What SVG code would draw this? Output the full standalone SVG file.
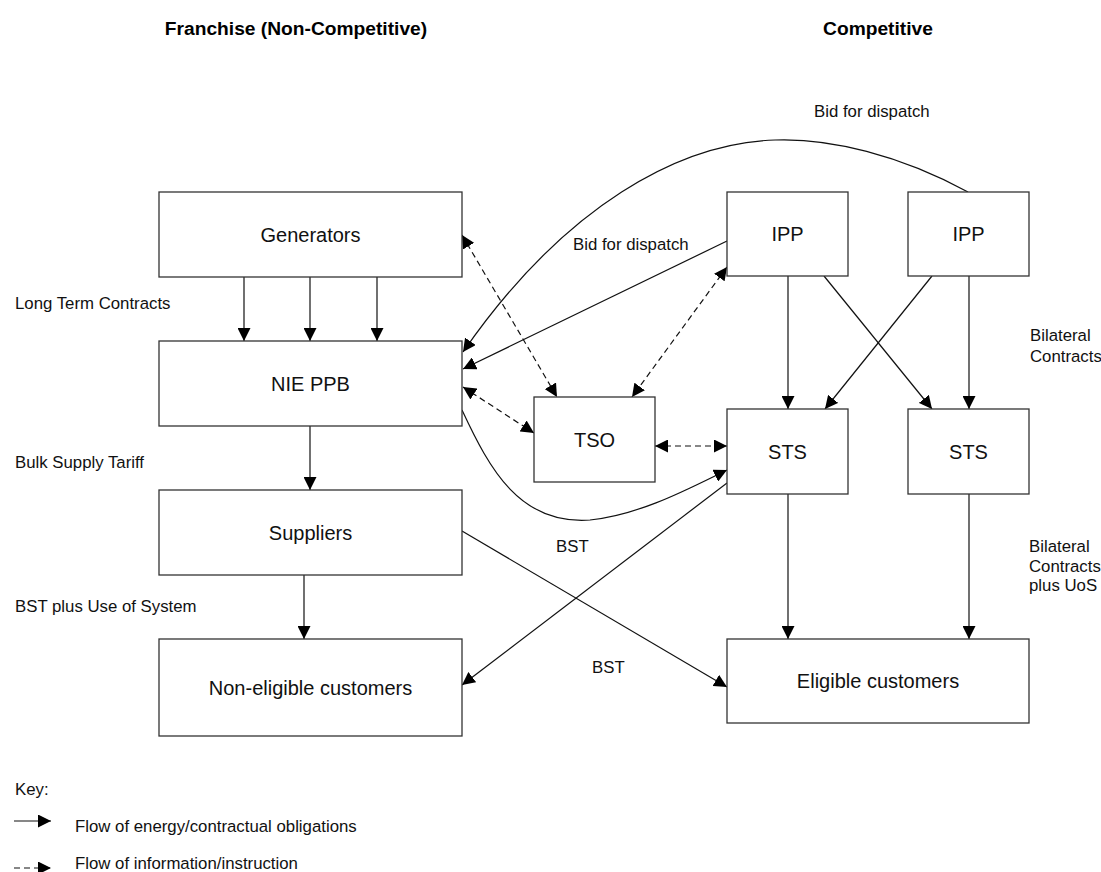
<svg xmlns="http://www.w3.org/2000/svg" width="1101" height="872" viewBox="0 0 1101 872">
<defs>
<marker id="ah" markerUnits="userSpaceOnUse" markerWidth="13" markerHeight="13" refX="13" refY="6.5" orient="auto-start-reverse" viewBox="0 0 13 13">
<path d="M0,0 L13,6.5 L0,13 z" fill="#000"/>
</marker>
</defs>
<style>
.box{fill:#fff;stroke:#333;stroke-width:1.3}
.lbl{font-family:"Liberation Sans",Arial,sans-serif;font-size:20px;fill:#111;text-anchor:middle}
.sm{font-family:"Liberation Sans",Arial,sans-serif;font-size:16.8px;fill:#111}
.hd{font-family:"Liberation Sans",Arial,sans-serif;font-size:19.2px;font-weight:bold;fill:#000;text-anchor:middle}
.s{fill:none;stroke:#111;stroke-width:1.2}
.d{fill:none;stroke:#111;stroke-width:1.2;stroke-dasharray:6,4}
</style>
<rect width="1101" height="872" fill="#fff"/>
<text class="hd" x="296" y="35">Franchise (Non-Competitive)</text>
<text class="hd" x="878" y="35">Competitive</text>

<g id="connectors">
<line class="s" x1="244" y1="277" x2="244" y2="341" marker-end="url(#ah)"/>
<line class="s" x1="310" y1="277" x2="310" y2="341" marker-end="url(#ah)"/>
<line class="s" x1="377" y1="277" x2="377" y2="341" marker-end="url(#ah)"/>
<line class="s" x1="310" y1="426" x2="310" y2="490" marker-end="url(#ah)"/>
<line class="s" x1="304" y1="575" x2="304" y2="639" marker-end="url(#ah)"/>
<line class="s" x1="788" y1="276" x2="788" y2="409" marker-end="url(#ah)"/>
<line class="s" x1="969" y1="276" x2="969" y2="409" marker-end="url(#ah)"/>
<line class="s" x1="824" y1="276" x2="932" y2="409" marker-end="url(#ah)"/>
<line class="s" x1="932" y1="276" x2="825" y2="409" marker-end="url(#ah)"/>
<line class="s" x1="788" y1="494" x2="788" y2="639" marker-end="url(#ah)"/>
<line class="s" x1="969" y1="494" x2="969" y2="639" marker-end="url(#ah)"/>
<line class="s" x1="727" y1="241" x2="463" y2="369" marker-end="url(#ah)"/>
<path class="s" d="M968,192 C900,155 830,138 775,140 C680,143 565,205 463,352" marker-end="url(#ah)"/>
<path class="s" d="M462,410 C490,470 520,525 590,520 C640,515 690,488 727,470" marker-end="url(#ah)"/>
<line class="s" x1="462" y1="531" x2="727" y2="687" marker-end="url(#ah)"/>
<line class="s" x1="727" y1="483" x2="462" y2="685" marker-end="url(#ah)"/>
<line class="d" x1="462" y1="235" x2="557" y2="397" marker-start="url(#ah)" marker-end="url(#ah)"/>
<line class="d" x1="727" y1="267" x2="632" y2="397" marker-start="url(#ah)" marker-end="url(#ah)"/>
<line class="d" x1="463" y1="387" x2="534" y2="433" marker-start="url(#ah)" marker-end="url(#ah)"/>
<line class="d" x1="655" y1="446" x2="727" y2="446" marker-start="url(#ah)" marker-end="url(#ah)"/>
</g>

<g id="generators"><rect class="box" x="159" y="192" width="303" height="85"/><text class="lbl" x="310.5" y="241.5">Generators</text></g>
<g id="nie-ppb"><rect class="box" x="159" y="341" width="303" height="85"/><text class="lbl" x="310.5" y="390.5">NIE PPB</text></g>
<g id="suppliers"><rect class="box" x="159" y="490" width="303" height="85"/><text class="lbl" x="310.5" y="539.5">Suppliers</text></g>
<g id="non-eligible"><rect class="box" x="159" y="639" width="303" height="97"/><text class="lbl" x="310.5" y="694.5">Non-eligible customers</text></g>
<g id="tso"><rect class="box" x="534" y="397" width="121" height="85"/><text class="lbl" x="594.5" y="446.5">TSO</text></g>
<g id="ipp1"><rect class="box" x="727" y="192" width="121" height="84"/><text class="lbl" x="787.5" y="241">IPP</text></g>
<g id="ipp2"><rect class="box" x="908" y="192" width="121" height="84"/><text class="lbl" x="968.5" y="241">IPP</text></g>
<g id="sts1"><rect class="box" x="727" y="409" width="121" height="85"/><text class="lbl" x="787.5" y="458.5">STS</text></g>
<g id="sts2"><rect class="box" x="908" y="409" width="121" height="85"/><text class="lbl" x="968.5" y="458.5">STS</text></g>
<g id="eligible"><rect class="box" x="727" y="639" width="302" height="84"/><text class="lbl" x="878" y="688">Eligible customers</text></g>

<g id="labels">
<text class="sm" x="814" y="117">Bid for dispatch</text>
<text class="sm" x="573" y="250">Bid for dispatch</text>
<text class="sm" x="15" y="309">Long Term Contracts</text>
<text class="sm" x="15" y="468">Bulk Supply Tariff</text>
<text class="sm" x="15" y="612">BST plus Use of System</text>
<text class="sm" x="556" y="552">BST</text>
<text class="sm" x="592" y="673">BST</text>
<text class="sm" x="1030" y="341">Bilateral</text>
<text class="sm" x="1030" y="362">Contracts</text>
<text class="sm" x="1029" y="552">Bilateral</text>
<text class="sm" x="1029" y="572">Contracts</text>
<text class="sm" x="1029" y="591">plus UoS</text>
</g>

<g id="key">
<text class="sm" x="15" y="795">Key:</text>
<line class="s" x1="14" y1="821" x2="51" y2="821" marker-end="url(#ah)"/>
<text class="sm" x="75" y="832">Flow of energy/contractual obligations</text>
<line class="d" x1="14" y1="868" x2="51" y2="868" marker-end="url(#ah)"/>
<text class="sm" x="75" y="869">Flow of information/instruction</text>
</g>
</svg>
